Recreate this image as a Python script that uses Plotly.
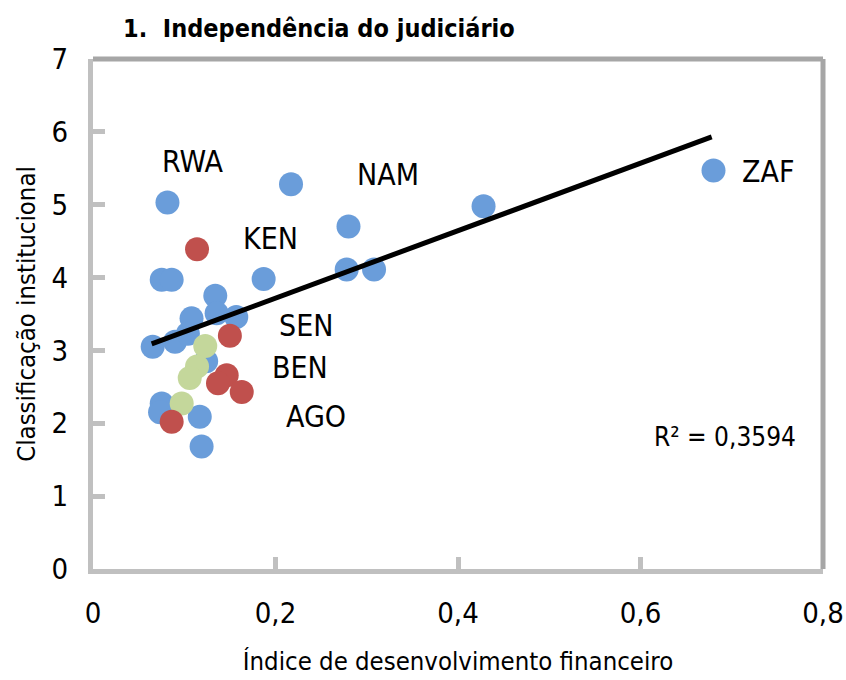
import plotly.graph_objects as go

# ---- data ----
blue_x = [0.680, 0.428, 0.217, 0.280, 0.278, 0.308, 0.187, 0.0816, 0.0753, 0.0862,
          0.134, 0.1355, 0.157, 0.108, 0.0654, 0.0899, 0.104, 0.124, 0.0753, 0.0735,
          0.117, 0.119]
blue_y = [5.47, 4.98, 5.28, 4.70, 4.11, 4.11, 3.98, 5.03, 3.97, 3.97,
          3.75, 3.51, 3.46, 3.44, 3.05, 3.12, 3.23, 2.85, 2.27, 2.15,
          2.09, 1.68]
green_x = [0.123, 0.114, 0.106, 0.0972]
green_y = [3.06, 2.78, 2.62, 2.27]
red_x = [0.114, 0.150, 0.1465, 0.137, 0.163, 0.0862]
red_y = [4.39, 3.20, 2.66, 2.55, 2.43, 2.02]
trend_x = [0.0643, 0.678]
trend_y = [3.09, 5.93]

label_text = ["RWA", "NAM", "KEN", "SEN", "BEN", "AGO", "ZAF"]
label_x = [0.110, 0.323, 0.195, 0.233, 0.227, 0.244, 0.740]
label_y = [5.59, 5.41, 4.54, 3.34, 2.76, 2.10, 5.46]
r2_text = "R² = 0,3594"

x_ticks = [0, 0.2, 0.4, 0.6, 0.8]
x_ticklabels = ["0", "0,2", "0,4", "0,6", "0,8"]
y_ticks = [0, 1, 2, 3, 4, 5, 6, 7]

FONT = "DejaVu Sans Condensed, Liberation Sans Narrow, sans-serif"

fig = go.Figure()
fig.add_trace(go.Scatter(x=blue_x, y=blue_y, mode="markers",
                         marker=dict(size=24, color="#6A9DDA"), showlegend=False))
fig.add_trace(go.Scatter(x=green_x, y=green_y, mode="markers",
                         marker=dict(size=24, color="#C4D79B"), showlegend=False))
fig.add_trace(go.Scatter(x=red_x, y=red_y, mode="markers",
                         marker=dict(size=24, color="#C0504D"), showlegend=False))
fig.add_trace(go.Scatter(x=trend_x, y=trend_y, mode="lines",
                         line=dict(color="black", width=5), showlegend=False))

for t, lx, ly in zip(label_text, label_x, label_y):
    fig.add_annotation(x=lx, y=ly, text=t, showarrow=False,
                       font=dict(family=FONT, size=30, color="black"))
fig.add_annotation(x=0.693, y=1.81, text=r2_text, showarrow=False,
                   font=dict(family=FONT, size=26, color="black"))

fig.add_annotation(x=(121 - 93) / 730, xref="paper", y=1, yref="paper", yshift=14,
                   text="<b>1.  Independência do judiciário</b>",
                   showarrow=False, xanchor="left", yanchor="bottom",
                   font=dict(family=FONT, size=25, color="black"))

# border (top/right darker)
fig.add_shape(type="line", xref="paper", yref="paper", x0=0, x1=1, y0=1, y1=1,
              line=dict(color="#A6A6A6", width=5))
fig.add_shape(type="line", xref="paper", yref="paper", x0=1, x1=1, y0=0, y1=1,
              line=dict(color="#A6A6A6", width=5))

fig.update_layout(
    width=846, height=680,
    margin=dict(l=93, r=23, t=59, b=111),
    paper_bgcolor="white", plot_bgcolor="white",
    font=dict(family=FONT, color="black"),
    xaxis=dict(range=[0, 0.8], tickvals=x_ticks, ticktext=x_ticklabels, automargin=False,
               showgrid=False, zeroline=False, showline=True, linecolor="#C0C0C0", linewidth=5,
               ticks="inside", ticklen=12, tickwidth=5, tickcolor="#C0C0C0",
               tickfont=dict(family=FONT, size=29), ticklabelstandoff=14,
               title=dict(text="Índice de desenvolvimento financeiro", font=dict(family=FONT, size=25.5), standoff=25)),
    yaxis=dict(range=[0, 7], tickvals=y_ticks, automargin=False,
               showgrid=False, zeroline=False, showline=True, linecolor="#C0C0C0", linewidth=5,
               ticks="inside", ticklen=12, tickwidth=5, tickcolor="#C0C0C0",
               tickfont=dict(family=FONT, size=29), ticklabelstandoff=14,
               title=dict(text="Classificação institucional", font=dict(family=FONT, size=25.5), standoff=10)),
)

fig.write_html("out.html", config={"displayModeBar": False},
               post_script="document.body.style.margin='0';document.body.style.overflow='hidden';")
